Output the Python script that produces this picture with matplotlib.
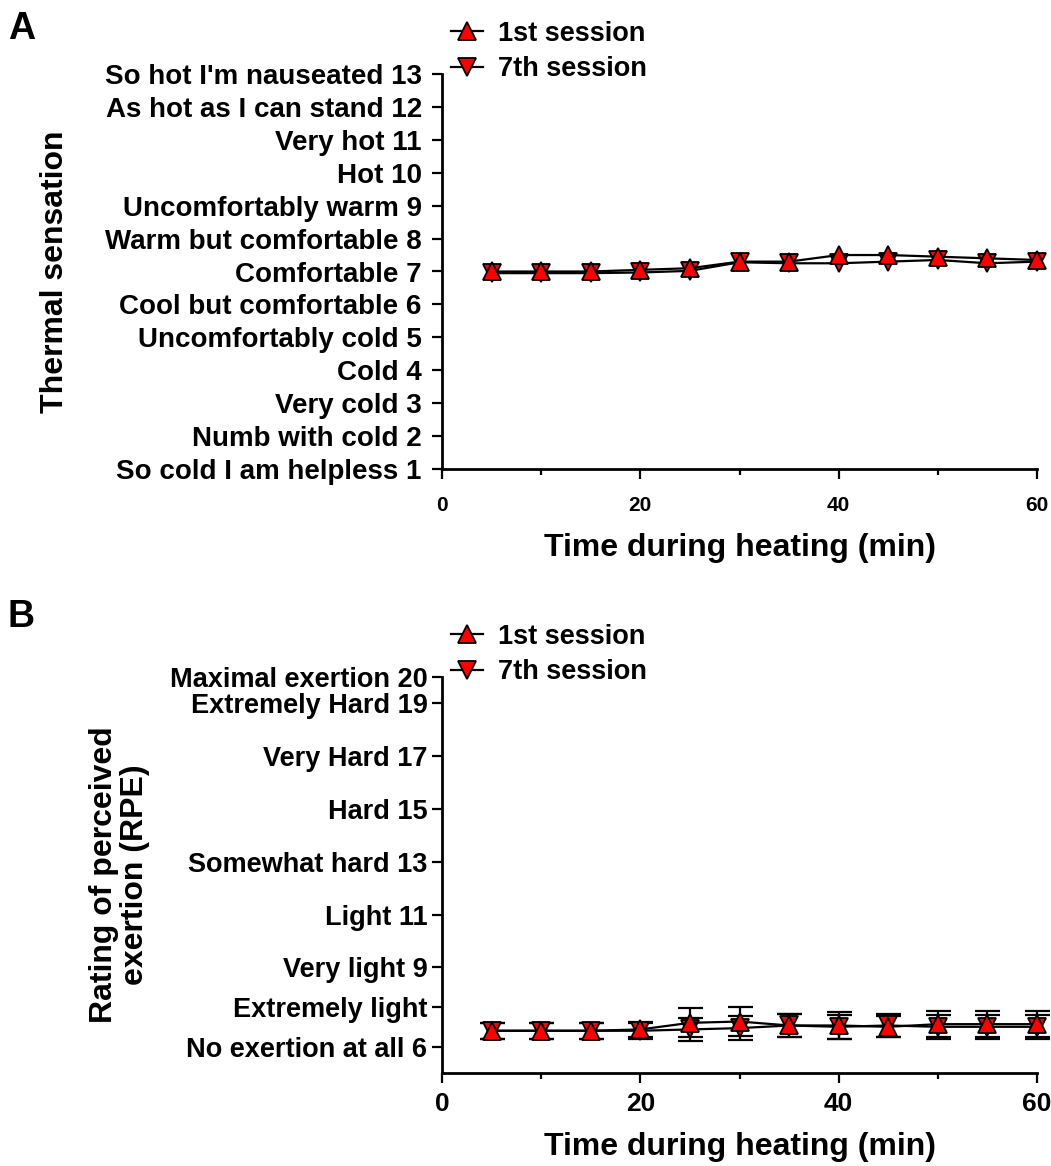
import matplotlib
matplotlib.use("Agg")
import matplotlib.pyplot as plt
from matplotlib.ticker import MultipleLocator

plt.rcParams['font.family'] = ['Liberation Sans', 'DejaVu Sans']
plt.rcParams['font.weight'] = 'bold'

# datos
tiempo = [5, 10, 15, 20, 25, 30, 35, 40, 45, 50, 55, 60]

ts_sesion1 = [7.0, 7.0, 7.0, 7.05, 7.1, 7.3, 7.3, 7.5, 7.5, 7.45, 7.4, 7.35]
ts_sesion7 = [6.95, 6.95, 6.95, 6.97, 7.02, 7.28, 7.25, 7.25, 7.3, 7.35, 7.25, 7.3]

rpe_sesion1 = [6.6, 6.6, 6.6, 6.65, 6.9, 6.95, 6.8, 6.8, 6.75, 6.85, 6.85, 6.85]
rpe_sesion7 = [6.6, 6.6, 6.6, 6.6, 6.65, 6.7, 6.8, 6.75, 6.8, 6.75, 6.75, 6.75]
rpe_err1 = [0.3, 0.3, 0.3, 0.3, 0.55, 0.55, 0.45, 0.5, 0.4, 0.5, 0.5, 0.5]
rpe_err7 = [0.3, 0.3, 0.3, 0.3, 0.45, 0.45, 0.45, 0.45, 0.45, 0.45, 0.45, 0.45]

ts_ticks = list(range(1, 14))
ts_labels = ["So cold I am helpless 1", "Numb with cold 2", "Very cold 3", "Cold 4",
             "Uncomfortably cold 5", "Cool but comfortable 6", "Comfortable 7",
             "Warm but comfortable 8", "Uncomfortably warm 9", "Hot 10", "Very hot 11",
             "As hot as I can stand 12", "So hot I'm nauseated 13"]

rpe_ticks = [6, 7.5, 9, 11, 13, 15, 17, 19, 20]
rpe_labels = ["No exertion at all 6", "Extremely light", "Very light 9", "Light 11",
              "Somewhat hard 13", "Hard 15", "Very Hard 17", "Extremely Hard 19",
              "Maximal exertion 20"]

fig = plt.figure(figsize=(10.51, 11.66), dpi=100)
W, H = 1051, 1166

def ejes(x0, y_top, x1, y_bot):
    return fig.add_axes([x0 / W, 1 - y_bot / H, (x1 - x0) / W, (y_bot - y_top) / H])

def estilo(ax):
    for s in ['top', 'right']:
        ax.spines[s].set_visible(False)
    for s in ['left', 'bottom']:
        ax.spines[s].set_linewidth(2)
    ax.tick_params(which='major', length=7.5, width=1.6)
    ax.tick_params(which='minor', length=4.5, width=1.6)
    ax.set_xlim(0, 60)
    ax.xaxis.set_major_locator(MultipleLocator(20))
    ax.xaxis.set_minor_locator(MultipleLocator(10))

mk = dict(color='black', lw=1.6, ms=13, mfc='red', mec='black', mew=1.3, clip_on=False)
ley = dict(loc='upper left', frameon=False, handlelength=1.2, handletextpad=0.55,
           labelspacing=0.35, borderpad=0.2, prop={'weight': 'bold', 'size': 19.5})

# ---- Panel A
ax1 = ejes(442, 74, 1037, 469)
estilo(ax1)
l7, = ax1.plot(tiempo, ts_sesion7, marker='v', label='7th session', **mk)
l1, = ax1.plot(tiempo, ts_sesion1, marker='^', label='1st session', **mk)
ax1.set_ylim(1, 13)
ax1.set_yticks(ts_ticks)
ax1.set_yticklabels(ts_labels, fontsize=20, fontweight='bold')
ax1.tick_params(axis='y', pad=7)
ax1.tick_params(axis='x', labelsize=15, pad=12)
for t in ax1.get_xticklabels():
    t.set_fontweight('bold')
ax1.set_xlabel("Time during heating (min)", fontsize=23, fontweight='bold')
ax1.xaxis.set_label_coords(0.5, -0.163)
ax1.set_ylabel("Thermal sensation", fontsize=23, fontweight='bold')
ax1.yaxis.set_label_coords(-0.625, 0.5)
fig.legend(handles=[l1, l7], bbox_to_anchor=(432 / W, 1 - 2 / H), **ley)

# ---- Panel B
ax2 = ejes(442, 677, 1037, 1073)
estilo(ax2)
ax2.errorbar(tiempo, rpe_sesion7, yerr=rpe_err7, fmt='none', ecolor='black',
             elinewidth=1.6, capsize=9, capthick=1.6, clip_on=False)
ax2.errorbar(tiempo, rpe_sesion1, yerr=rpe_err1, fmt='none', ecolor='black',
             elinewidth=1.6, capsize=9, capthick=1.6, clip_on=False)
m7, = ax2.plot(tiempo, rpe_sesion7, marker='v', label='7th session', **mk)
m1, = ax2.plot(tiempo, rpe_sesion1, marker='^', label='1st session', **mk)
ax2.set_ylim(5, 20)
ax2.set_yticks(rpe_ticks)
ax2.set_yticklabels(rpe_labels, fontsize=19.5, fontweight='bold')
ax2.tick_params(axis='y', pad=3)
ax2.tick_params(axis='x', labelsize=19, pad=6)
for t in ax2.get_xticklabels():
    t.set_fontweight('bold')
ax2.set_xlabel("Time during heating (min)", fontsize=23, fontweight='bold')
ax2.xaxis.set_label_coords(0.5, -0.149)
ax2.set_ylabel("Rating of perceived\nexertion (RPE)", fontsize=23, fontweight='bold',
               linespacing=1.05)
ax2.yaxis.set_label_coords(-0.49, 0.5)
fig.legend(handles=[m1, m7], bbox_to_anchor=(432 / W, 1 - 605 / H), **ley)

fig.text(8 / W, 1 - 11 / H, "A", fontsize=27, fontweight='bold', va='top')
fig.text(8 / W, 1 - 599 / H, "B", fontsize=27, fontweight='bold', va='top')

fig.savefig("out.png", dpi=100)
